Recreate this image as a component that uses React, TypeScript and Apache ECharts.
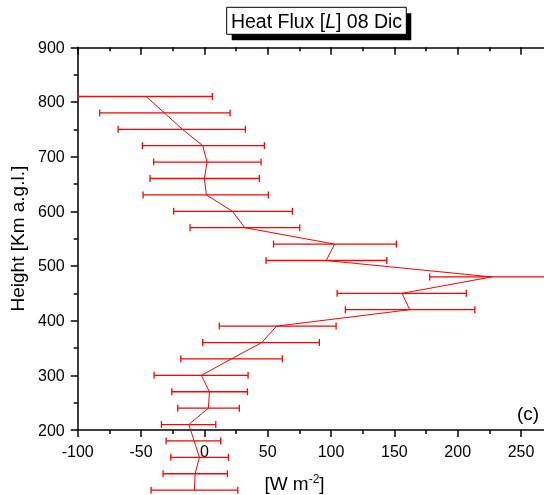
import React, { useEffect, useRef } from "react";
import * as echarts from "echarts";

const heights = [810, 780, 750, 720, 690, 660, 630, 600, 570, 540, 510, 480, 450, 420, 390, 360, 330, 300, 270, 240, 210, 180, 150, 120, 90];
const flux = [-46, -31.6, -17.4, -1.3, 2.1, 0, 1.6, 22.1, 31.9, 102.8, 96.2, 226.9, 156.1, 162.1, 57, 45.3, 21.3, -2.4, 4, 3.2, -12.3, -8.1, -3.9, -7.3, -7.9];
const fluxLow = [-100, -82.6, -68.1, -48.9, -40, -42.9, -48.4, -24.2, -11.3, 54.6, 48.7, 177.9, 104.8, 111.3, 11.8, -1.3, -18.6, -39.7, -25.7, -21, -33.9, -30.2, -26.5, -32.6, -42.1];
const fluxHigh = [6.3, 20.3, 32.4, 47.4, 44.8, 43.4, 50.5, 69.5, 75.3, 151.6, 144, 276, 206.8, 213.5, 104, 90.8, 61.6, 34.5, 34, 27.6, 9, 12.9, 19, 18.2, 26.4];
const xTickLabels = ["-100", "-50", "0", "50", "100", "150", "200", "250"];

const FONT = '"Liberation Sans", Arial, sans-serif';
const RED = "#ff0000";

export default function App() {
  const ref = useRef<HTMLDivElement>(null);
  useEffect(() => {
    if (!ref.current) return;
    const chart = echarts.init(ref.current, null, { renderer: "svg" });
    const linePts = flux.map((v, i) => [v, heights[i]]);
    const errData = flux.map((v, i) => [v, heights[i], fluxLow[i], fluxHigh[i]]);
    const axisCommon = {
      type: "value" as const,
      min: -100,
      max: 275,
      interval: 50,
      splitLine: { show: false },
      axisLine: { show: true, onZero: false, lineStyle: { color: "#000", width: 1.5 } },
      minorSplitLine: { show: false },
    };
    chart.setOption({
      animation: false,
      grid: { left: 77.7, top: 47.3, width: 475, height: 382.7, containLabel: false, outerBoundsMode: "none" },
      xAxis: [
        {
          ...axisCommon,
          position: "bottom",
          axisTick: { show: true, inside: false, length: 7, lineStyle: { color: "#000", width: 1.5 } },
          minorTick: { show: true, splitNumber: 2, length: 4, lineStyle: { color: "#000", width: 1.5 } },
          axisLabel: {
            show: true,
            margin: 13,
            fontSize: 16,
            fontFamily: FONT,
            color: "#000",
            formatter: (v: number) => (xTickLabels.includes(String(v)) ? String(v) : ""),
          },
        },
        {
          ...axisCommon,
          position: "top",
          axisTick: { show: true, inside: true, length: 7.5, lineStyle: { color: "#000", width: 1.5 } },
          minorTick: { show: true, splitNumber: 2, length: 4, lineStyle: { color: "#000", width: 1.5 } },
          axisLabel: { show: false },
        },
      ],
      yAxis: {
        type: "value",
        min: 200,
        max: 900,
        interval: 100,
        splitLine: { show: false },
        axisLine: { show: true, onZero: false, lineStyle: { color: "#000", width: 1.5 } },
        axisTick: { show: true, inside: false, length: 7, lineStyle: { color: "#000", width: 1.5 } },
        minorTick: { show: true, splitNumber: 2, length: 4, lineStyle: { color: "#000", width: 1.5 } },
        axisLabel: { margin: 13, fontSize: 16, fontFamily: FONT, color: "#000" },
        name: "Height [Km a.g.l.]",
        nameLocation: "middle",
        nameGap: 37,
        nameTextStyle: { fontSize: 19, fontFamily: FONT, color: "#000" },
      },
      series: [
        {
          type: "custom",
          clip: false,
          xAxisIndex: 0,
          encode: { x: [0, 2, 3], y: 1 },
          data: errData,
          renderItem: (params: any, api: any) => {
            const y = api.value(1);
            const lo = api.coord([api.value(2), y]);
            const hi = api.coord([api.value(3), y]);
            const st = { stroke: RED, lineWidth: 1.3 };
            return {
              type: "group",
              children: [
                { type: "line", shape: { x1: lo[0], y1: lo[1], x2: hi[0], y2: hi[1] }, style: st },
                { type: "line", shape: { x1: lo[0], y1: lo[1] - 3.5, x2: lo[0], y2: lo[1] + 3.5 }, style: st },
                { type: "line", shape: { x1: hi[0], y1: hi[1] - 3.5, x2: hi[0], y2: hi[1] + 3.5 }, style: st },
              ],
            };
          },
          z: 2,
        },
        {
          type: "line",
          xAxisIndex: 0,
          data: linePts,
          clip: false,
          symbol: "none",
          lineStyle: { color: RED, width: 1 },
          z: 3,
        },
      ],
      graphic: [
        { type: "rect", shape: { x: 231.7, y: 13.3, width: 179.6, height: 27 }, style: { fill: "#000" }, z: 10 },
        { type: "rect", shape: { x: 226.7, y: 7.3, width: 179.6, height: 27 }, style: { fill: "#fff", stroke: "#000", lineWidth: 1 }, z: 11 },
        {
          type: "text",
          x: 316.5,
          y: 21,
          z: 12,
          style: {
            text: "{n|Heat Flux [}{i|L}{n|] 08 Dic}",
            align: "center",
            verticalAlign: "middle",
            rich: {
              n: { fontSize: 19.5, fontFamily: FONT, fill: "#000" },
              i: { fontSize: 19.5, fontFamily: FONT, fontStyle: "italic", fill: "#000" },
            },
          },
        },
        {
          type: "text",
          x: 294.5,
          y: 483.5,
          z: 12,
          style: {
            text: "{n|[W m}{s|-2}{n|]}",
            align: "center",
            verticalAlign: "middle",
            rich: {
              n: { fontSize: 19, fontFamily: FONT, fill: "#000", lineHeight: 22 },
              s: { fontSize: 12, fontFamily: FONT, fill: "#000", verticalAlign: "top", lineHeight: 12 },
            },
          },
        },
        {
          type: "text",
          x: 517,
          y: 413,
          z: 12,
          style: { text: "(c)", fontSize: 19, fontFamily: FONT, fill: "#000", align: "left", verticalAlign: "middle" },
        },
      ],
    });
    return () => chart.dispose();
  }, []);
  return <div ref={ref} style={{ position: "fixed", left: 0, top: 0, width: 544, height: 495 }} />;
}
